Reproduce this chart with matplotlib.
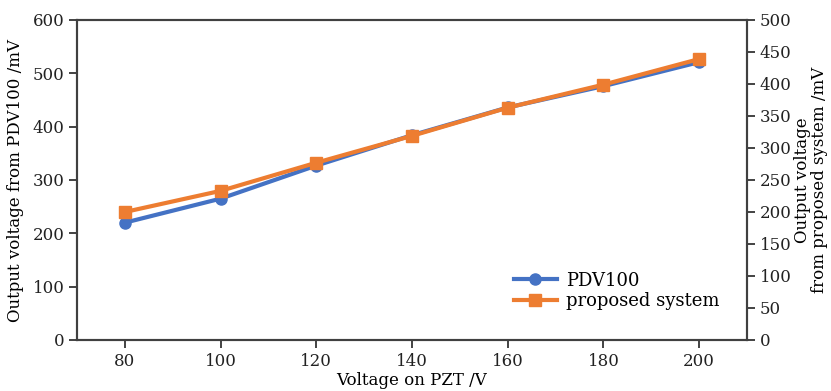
import numpy as np
import matplotlib
matplotlib.use("Agg")
import matplotlib.pyplot as plt

# data
pzt_voltage = [80, 100, 120, 140, 160, 180, 200]
pdv100 = [220, 265, 327, 384, 436, 476, 521]
proposed = [200, 233, 277, 319, 363, 399, 439]

plt.rcParams['font.family'] = ['DejaVu Serif']
plt.rcParams['font.size'] = 12
plt.rcParams['axes.linewidth'] = 1.5
plt.rcParams['axes.edgecolor'] = '#404040'
plt.rcParams['xtick.major.width'] = 1.2
plt.rcParams['ytick.major.width'] = 1.2
plt.rcParams['xtick.major.size'] = 6
plt.rcParams['ytick.major.size'] = 6

blue = '#4472C4'
orange = '#ED7D31'

fig = plt.figure(figsize=(8.31, 3.91), dpi=100)
ax = fig.add_axes([77/831, 51/391, 670/831, 320/391])
ax2 = ax.twinx()

l1, = ax.plot(pzt_voltage, pdv100, color=blue, lw=3, marker='o', ms=8, label='PDV100')
l2, = ax2.plot(pzt_voltage, proposed, color=orange, lw=3, marker='s', ms=8, label='proposed system')

ax.set_xlim(70, 210)
ax.set_ylim(0, 600)
ax2.set_ylim(0, 500)
ax.set_xticks(np.arange(80, 201, 20))
ax.set_yticks(np.arange(0, 601, 100))
ax2.set_yticks(np.arange(0, 501, 50))

ax.set_xlabel("Voltage on PZT /V", labelpad=2)
ax.set_ylabel("Output voltage from PDV100 /mV", labelpad=6)
ax2.set_ylabel("Output voltage\nfrom proposed system /mV", labelpad=2, linespacing=0.95)

ax.tick_params(direction='out', pad=3, colors='#222222')
ax2.tick_params(direction='out', pad=3, colors='#222222')

ax.legend([l1, l2], ['PDV100', 'proposed system'], loc='lower right',
          bbox_to_anchor=(0.97, 0.07), frameon=False, handlelength=2.4,
          handletextpad=0.5, borderaxespad=0, labelspacing=0.15, fontsize=13)

fig.savefig("out.png", dpi=100)
